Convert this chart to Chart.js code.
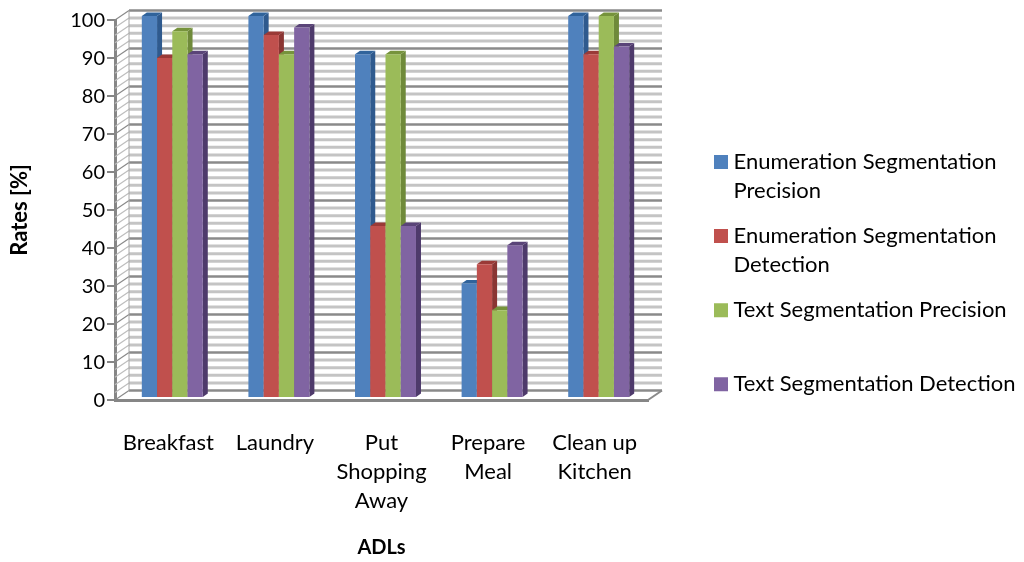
<!DOCTYPE html>
<html><head><meta charset="utf-8">
<style>html,body{margin:0;padding:0;background:#fff}#w{width:1024px;height:562px}canvas{filter:blur(0.6px)}</style>
<script src="https://cdn.jsdelivr.net/npm/chart.js@4"></script>
</head><body><div id="w"><canvas id="c"></canvas></div>
<script>
const categories=["Breakfast","Laundry",["Put","Shopping","Away"],["Prepare","Meal"],["Clean up","Kitchen"]];
const enumPrecision=[100,100,90,30,100];
const enumDetection=[89,95,45,35,90];
const textPrecision=[96,90,90,23,100];
const textDetection=[90,97,45,40,92];
const seriesNames=[["Enumeration Segmentation","Precision"],["Enumeration Segmentation","Detection"],["Text Segmentation Precision",""],["Text Segmentation Detection",""]];
const front=["#4F81BD","#C0504D","#9BBB59","#8064A2"];
const side=["#2F5A8E","#8A3533","#6F8A3A","#4E3A6B"];
const topFace=["#30639B","#9A3A37","#76933C","#5A4478"];
const WALL={dx:14,dy:-9.5},BAR={dx:4,dy:-2,k:1.0053},DEPTH={dx:5,dy:-3.5};

const wall3d={id:'wall3d',
 afterLayout(chart){
  const l=chart.legend; const w=l.right-l.left,h=l.bottom-l.top;
  l.left=703.5;l.right=l.left+w;l.top=135;l.bottom=l.top+h;
  const s=chart.scales.y; const o=s.drawLabels;
  if(!s._shifted){s._shifted=true;s.drawLabels=function(a){const c=this.ctx;c.save();c.translate(0,1);o.call(this,a);c.restore();};}
 },
 beforeDatasetsDraw(chart){
  const {ctx,chartArea:a,scales:{y}}=chart;
  ctx.save();
  for(let v=0;v<=100;v+=2){
   const p=y.getPixelForValue(v),maj=v%10===0;
   ctx.strokeStyle=maj?'#8a8a8a':'#c4c4c4';
   ctx.lineWidth=maj?2.5:3;
   ctx.beginPath();ctx.moveTo(a.left+WALL.dx,p+WALL.dy);ctx.lineTo(a.right+WALL.dx,p+WALL.dy);ctx.stroke();
   ctx.strokeStyle=maj?'#8a8a8a':'#bdbdbd';ctx.lineWidth=1.2;
   ctx.beginPath();ctx.moveTo(a.left,p);ctx.lineTo(a.left+WALL.dx,p+WALL.dy);ctx.stroke();
  }
  ctx.strokeStyle='#a6a6a6';ctx.lineWidth=1;
  ctx.beginPath();ctx.moveTo(a.left+WALL.dx,a.top+WALL.dy);ctx.lineTo(a.left+WALL.dx,a.bottom+WALL.dy);ctx.stroke();
  ctx.strokeStyle='#8a8a8a';ctx.lineWidth=2;
  ctx.beginPath();ctx.moveTo(a.right,a.bottom);ctx.lineTo(a.right+WALL.dx,a.bottom+WALL.dy);ctx.stroke();
  ctx.translate(BAR.dx,a.bottom+BAR.dy);ctx.scale(1,BAR.k);ctx.translate(0,-a.bottom);
  chart.data.datasets.forEach((d,i)=>{
   chart.getDatasetMeta(i).data.forEach(el=>{
    const {x,y:t,base,width}=el.getProps(['x','y','base','width'],true);
    const r=x+width/2,l=x-width/2;
    ctx.fillStyle=side[i];ctx.beginPath();ctx.moveTo(r,t);ctx.lineTo(r+DEPTH.dx,t+DEPTH.dy);ctx.lineTo(r+DEPTH.dx,base+DEPTH.dy);ctx.lineTo(r,base);ctx.closePath();ctx.fill();
    ctx.fillStyle=topFace[i];ctx.beginPath();ctx.moveTo(l,t);ctx.lineTo(l+DEPTH.dx,t+DEPTH.dy);ctx.lineTo(r+DEPTH.dx,t+DEPTH.dy);ctx.lineTo(r,t);ctx.closePath();ctx.fill();
    el.draw(ctx);
   });
  });
  ctx.restore();
  return false;
 }
};
const AX='#868686';
new Chart(document.getElementById('c'),{
 type:'bar',
 data:{labels:categories,datasets:[enumPrecision,enumDetection,textPrecision,textDetection].map((d,i)=>({label:seriesNames[i].join(' '),data:d,backgroundColor:front[i],borderWidth:0,categoryPercentage:0.572,barPercentage:1}))},
 plugins:[wall3d],
 options:{responsive:true,maintainAspectRatio:false,animation:false,
  layout:{padding:{top:20,right:376,left:0,bottom:0}},
  plugins:{tooltip:{enabled:false},
   legend:{position:'chartArea',align:'start',
    labels:{boxWidth:3,boxHeight:3,padding:16,color:'#000',font:{family:'Lato',size:22,lineHeight:1.32},
     generateLabels:()=>seriesNames.map((t,i)=>({text:t,fillStyle:front[i],strokeStyle:front[i],lineWidth:11,datasetIndex:i}))}}},
  scales:{
   x:{grid:{display:false,drawTicks:false},border:{color:AX,width:3},
    ticks:{color:'#000',padding:28,maxRotation:0,autoSkip:false,font:{family:'Lato',size:22,lineHeight:1.32}},
    title:{display:true,text:'ADLs',color:'#000',font:{family:'Lato',size:20,weight:'bold',lineHeight:1.2},padding:{top:0,bottom:2}},
    afterFit(s){s.height=162;}},
   y:{min:0,max:100,grid:{drawOnChartArea:false,color:AX,lineWidth:2,tickLength:8},border:{color:AX,width:3},
    ticks:{stepSize:10,color:'#000',padding:2,font:{family:'Lato',size:20}},
    title:{display:true,text:'Rates [%]',color:'#000',font:{family:'Lato',size:22,weight:'bold',lineHeight:1.2},padding:{top:7,bottom:0}},
    afterFit(s){s.width=115;}}
  }}
});
</script></body></html>
